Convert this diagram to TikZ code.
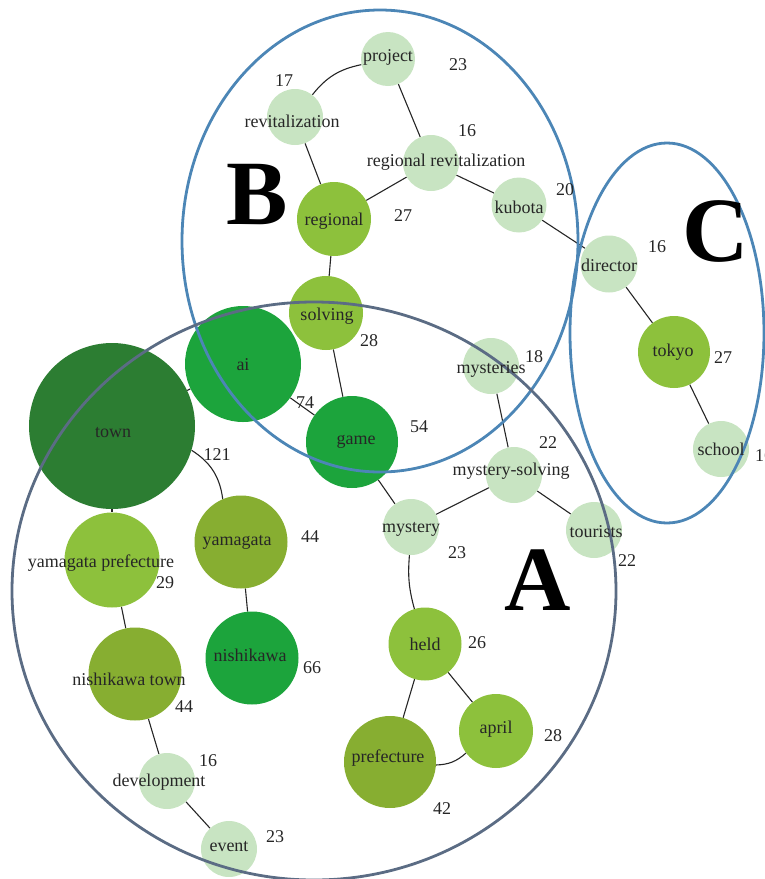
\documentclass[tikz,border=0pt]{standalone}
\usepackage{fontspec}
\setmainfont{Liberation Serif}
\usetikzlibrary{backgrounds}
\definecolor{cLight}{HTML}{C8E4C2}
\definecolor{cYG}{HTML}{8DC13C}
\definecolor{cOlive}{HTML}{87AE31}
\definecolor{cBright}{HTML}{1CA43C}
\definecolor{cDark}{HTML}{2C7D32}
\definecolor{cBlue}{HTML}{4C86B6}
\definecolor{cSlate}{HTML}{5B6C84}
\begin{document}
\begin{tikzpicture}[x=1pt,y=-1pt,
  bub/.style={circle,draw=none,inner sep=0pt,minimum size=#1},
  lbl/.style={font=\fontsize{18}{20}\selectfont,text=black!85,inner sep=0pt},
  num/.style={font=\fontsize{18}{20}\selectfont,text=black!85,inner sep=0pt},
  big/.style={font=\fontsize{92}{92}\selectfont\bfseries,inner sep=0pt},
  link/.style={draw=black!85,line width=1.1pt},
  grp/.style={line width=2.8pt}]
\useasboundingbox (0,0) rectangle (765,879);
% nodes
\node[bub=54pt,fill=cLight] (project) at (388,59) {};
\node[bub=56pt,fill=cLight] (revit) at (295,117) {};
\node[bub=74pt,fill=cYG] (regional) at (334,219) {};
\node[bub=56pt,fill=cLight] (regrev) at (431,163) {};
\node[bub=55pt,fill=cLight] (kubota) at (519,205) {};
\node[bub=57pt,fill=cLight] (director) at (609,264) {};
\node[bub=74pt,fill=cYG] (solving) at (326,313) {};
\node[bub=116pt,fill=cBright] (ai) at (243,364) {};
\node[bub=166pt,fill=cDark] (town) at (112,426) {};
\node[bub=92pt,fill=cBright] (game) at (352,442) {};
\node[bub=56pt,fill=cLight] (mysteries) at (491,366) {};
\node[bub=56pt,fill=cLight] (msolving) at (514,475) {};
\node[bub=56pt,fill=cLight] (mystery) at (411,527) {};
\node[bub=56pt,fill=cLight] (tourists) at (594,530) {};
\node[bub=72pt,fill=cYG] (tokyo) at (674,352) {};
\node[bub=56pt,fill=cLight] (school) at (721,449) {};
\node[bub=95pt,fill=cYG] (yampref) at (112,560) {};
\node[bub=93pt,fill=cOlive] (yamagata) at (241,542) {};
\node[bub=93pt,fill=cBright] (nishikawa) at (252,658) {};
\node[bub=93pt,fill=cOlive] (nishtown) at (135,674) {};
\node[bub=56pt,fill=cLight] (develop) at (167,781) {};
\node[bub=56pt,fill=cLight] (event) at (229,849) {};
\node[bub=73pt,fill=cYG] (held) at (425,644) {};
\node[bub=74pt,fill=cYG] (april) at (496,731) {};
\node[bub=92pt,fill=cOlive] (prefecture) at (390,762) {};
% edges
\begin{scope}[on background layer]
\draw[link] (project) to[bend right=20] (revit);
\draw[link] (project) -- (regrev);
\draw[link] (revit) -- (regional);
\draw[link] (regional) -- (regrev);
\draw[link] (regrev) -- (kubota);
\draw[link] (kubota) -- (director);
\draw[link] (director) -- (tokyo);
\draw[link] (tokyo) -- (school);
\draw[link] (regional) -- (solving);
\draw[link] (solving) -- (game);
\draw[link] (ai) -- (game);
\draw[link] (town) -- (ai);
\draw[link] (town) to[bend left=25] (yamagata);
\draw[link] (town) -- (yampref);
\draw[link] (yamagata) -- (nishikawa);
\draw[link] (yampref) -- (nishtown);
\draw[link] (nishtown) -- (develop);
\draw[link] (develop) -- (event);
\draw[link] (game) -- (mystery);
\draw[link] (mystery) -- (msolving);
\draw[link] (mysteries) -- (msolving);
\draw[link] (msolving) -- (tourists);
\draw[link] (mystery) to[bend right=10] (held);
\draw[link] (held) -- (prefecture);
\draw[link] (held) -- (april);
\draw[link] (april) to[bend left=20] (prefecture);
\end{scope}
% group ellipses
\draw[grp,draw=cBlue] (380,241) ellipse [x radius=198, y radius=231];
\draw[grp,draw=cSlate] (314,591) ellipse [x radius=302, y radius=289];
\draw[grp,draw=cBlue] (667,333) ellipse [x radius=97, y radius=190];
% big letters
\node[big] (A) at (538,580) {A};
\node[big] (B) at (257,195) {B};
\node[big] (C) at (716,231) {C};
% labels
\node[lbl] at (388,57) {project};
\node[lbl] at (292,121) {revitalization};
\node[lbl] at (334,221) {regional};
\node[lbl] at (446,162) {regional revitalization};
\node[lbl] at (519,207) {kubota};
\node[lbl] at (609,265) {director};
\node[lbl] at (327,316) {solving};
\node[lbl] at (243,365) {ai};
\node[lbl] at (113,433) {town};
\node[lbl] at (356,442) {game};
\node[lbl] at (491,369) {mysteries};
\node[lbl] at (511,471) {mystery-solving};
\node[lbl] at (411,529) {mystery};
\node[lbl] at (596,532) {tourists};
\node[lbl] at (673,352) {tokyo};
\node[lbl] at (721,449) {school};
\node[lbl] at (101,563) {yamagata prefecture};
\node[lbl] at (237,542) {yamagata};
\node[lbl] at (250,655) {nishikawa};
\node[lbl] at (129,679) {nishikawa town};
\node[lbl] at (159,782) {development};
\node[lbl] at (229,847) {event};
\node[lbl] at (425,644) {held};
\node[lbl] at (496,729) {april};
\node[lbl] at (388,758) {prefecture};
% numbers
\node[num] at (458,65) {23};
\node[num] at (284,81) {17};
\node[num] at (467,131) {16};
\node[num] at (403,216) {27};
\node[num] at (565,190) {20};
\node[num] at (657,247) {16};
\node[num] at (369,341) {28};
\node[num] at (305,403) {74};
\node[num] at (217,455) {121};
\node[num] at (419,427) {54};
\node[num] at (534,357) {18};
\node[num] at (548,443) {22};
\node[num] at (457,553) {23};
\node[num] at (627,561) {22};
\node[num] at (723,358) {27};
\node[num] at (764,456) {16};
\node[num] at (310,537) {44};
\node[num] at (165,583) {29};
\node[num] at (312,668) {66};
\node[num] at (184,707) {44};
\node[num] at (208,761) {16};
\node[num] at (275,837) {23};
\node[num] at (477,643) {26};
\node[num] at (553,736) {28};
\node[num] at (442,809) {42};
\end{tikzpicture}
\end{document}
